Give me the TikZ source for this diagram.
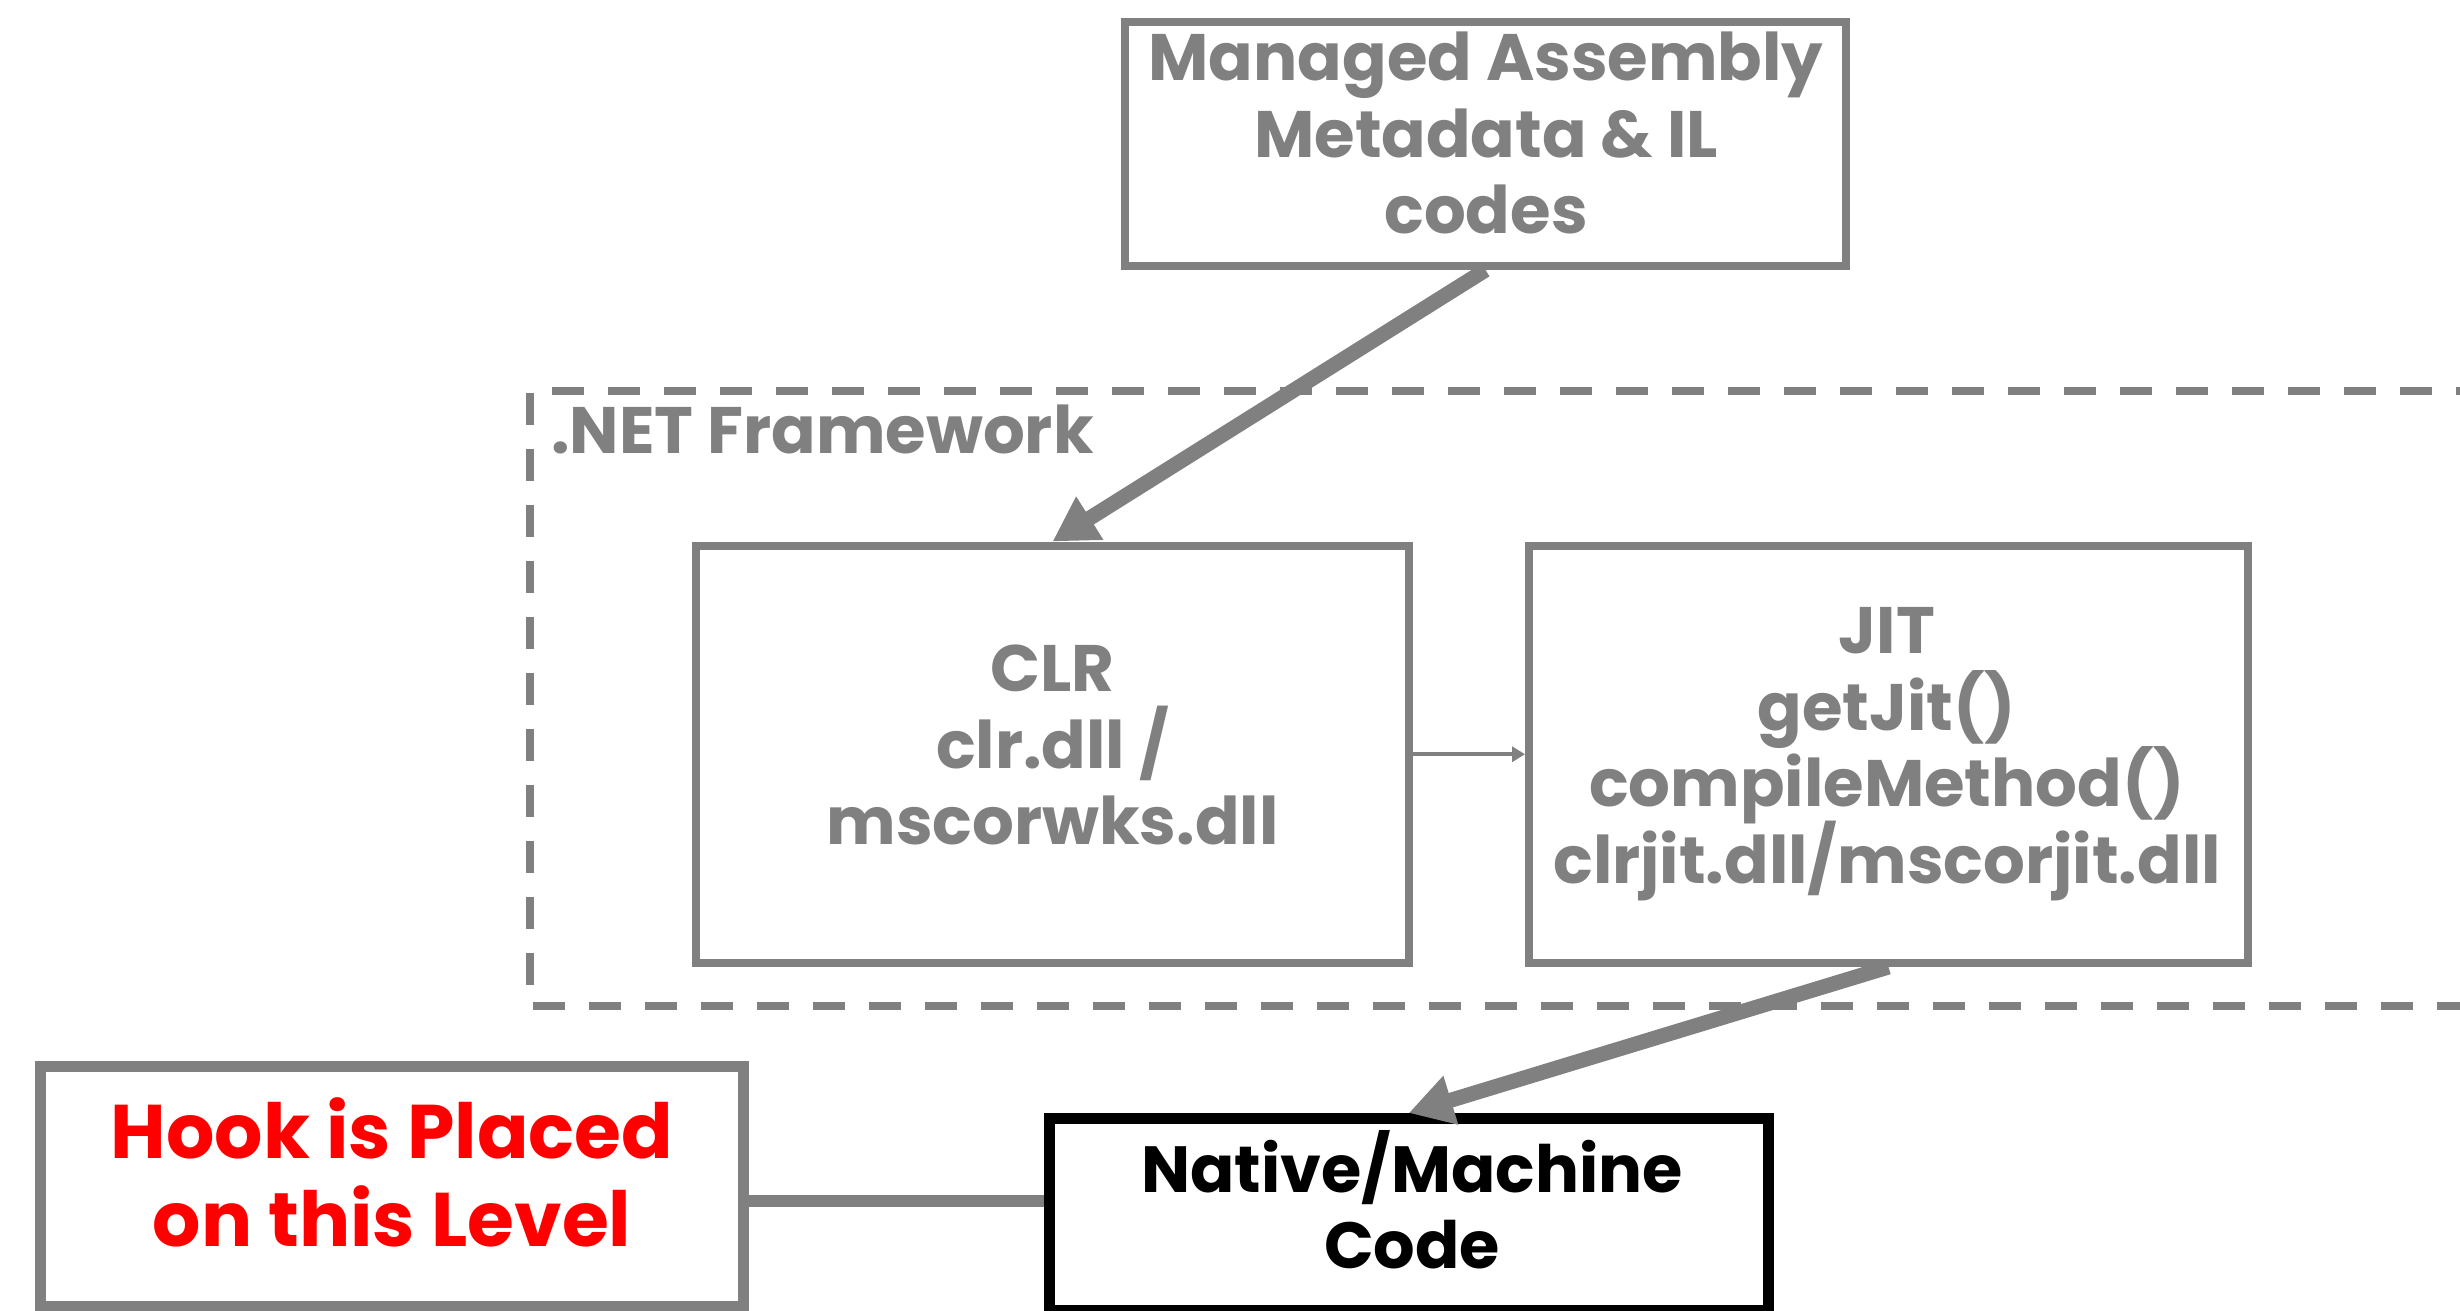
\documentclass[tikz,border=0pt]{standalone}
\usepackage{fontspec}
\setmainfont{Poppins}
\usetikzlibrary{arrows.meta}
\definecolor{gr}{HTML}{808080}
\newcommand\mlines[1]{\vtop{\lineskiplimit=-1000pt\lineskip=0pt\halign{\hfil##\hfil\cr#1\crcr}}}
\begin{document}
\begin{tikzpicture}[x=1pt,y=-1pt,
  box/.style={draw=gr,line width=8pt,inner sep=0pt,rectangle},
  heavybox/.style={line width=11pt,inner sep=0pt,rectangle},
  txt/.style={font=\bfseries\fontsize{65.7}{76.5}\selectfont,text=gr,inner sep=0pt,anchor=base},
  frame/.style={draw=gr,line width=7.5pt,dash pattern=on 32pt off 24pt},
  bigarrow/.style={draw=gr,line width=15pt,-{Triangle[length=44pt,width=48pt]}},
  smallarrow/.style={draw=gr,line width=4pt,-{Triangle[length=13pt,width=15pt]}}]
\useasboundingbox (0,0) rectangle (2460,1311);
\fill[white] (0,0) rectangle (2460,1311);
\draw[frame] (2600,391) -- (530,391) -- (530,1006) -- (2600,1006);
\node[box,minimum width=721pt,minimum height=244pt] (managed) at (1485.5,144) {};
\node[txt] (managedtxt) at (1486,81) {\mlines{Managed Assembly\cr Metadata \& IL\cr codes}};
\node[txt,anchor=base west] (nettxt) at (551,453) {.NET Framework};
\node[box,minimum width=713pt,minimum height=417.5pt] (clr) at (1052.5,754.25) {};
\node[txt] (clrtxt) at (1052.5,691.7) {\mlines{CLR\cr clr.dll /\cr mscorwks.dll}};
\node[box,minimum width=719pt,minimum height=417.5pt] (jit) at (1888.5,754.25) {};
\node[txt] (jittxt) at (1887,653.7) {\mlines{JIT\cr getJit()\cr compileMethod()\cr clrjit.dll/mscorjit.dll}};
\node[heavybox,draw=gr,minimum width=703pt,minimum height=240pt] (hook) at (391.5,1186) {};
\node[txt,text=red,font=\bfseries\fontsize{76}{88.4}\selectfont] (hooktxt) at (392,1158.3) {\mlines{Hook is Placed\cr on this Level}};
\node[heavybox,draw=black,minimum width=718.5pt,minimum height=191.5pt] (native) at (1408.75,1214.25) {};
\node[txt,text=black,font=\bfseries\fontsize{65.3}{75.6}\selectfont] (nativetxt) at (1412,1192.7) {\mlines{Native/Machine\cr Code}};
\draw[bigarrow] (managed.south) -- (clr.north);
\draw[bigarrow] (jit.south) -- (native.north);
\draw[smallarrow] (clr.east) -- (jit.west);
\coordinate (hy) at (0,1201);
\draw[draw=gr,line width=12pt] (hook.east |- hy) -- (native.west |- hy);
\end{tikzpicture}
\end{document}
